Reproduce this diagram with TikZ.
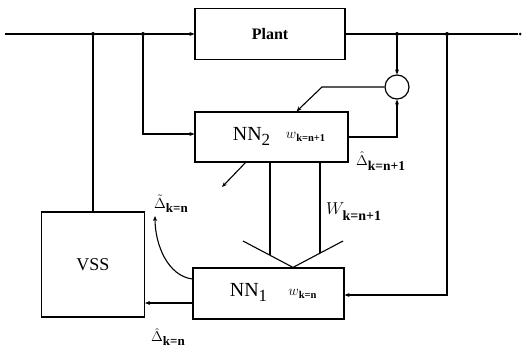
\documentclass[tikz,border=0pt]{standalone}
\usepackage{amsmath}
\usepackage{fontspec}
\setmainfont{Liberation Serif}
\usetikzlibrary{positioning, arrows.meta, calc}

% subscript in bold upright text
\newcommand{\ksub}[2]{{\fontsize{#1}{#1}\selectfont\bfseries #2}}

\begin{document}
\begin{tikzpicture}[x=1pt, y=-1pt,
        block/.style={draw, line width=1.2pt, inner sep=0pt},
        arr/.style={-{Stealth[length=5pt, width=4pt]}, line width=1.1pt},
        wire/.style={line width=1.1pt},
        dot/.style={circle, fill, inner sep=0pt, minimum size=4pt},
        nnlbl/.style={font=\fontsize{20}{22}\selectfont, inner sep=0pt},
        wlbl/.style={font=\fontsize{15}{17}\selectfont, inner sep=0pt},
        lbl/.style={font=\fontsize{15}{17}\selectfont, inner sep=0pt}
    ]
    \useasboundingbox (0,0) rectangle (526,351);

    % blocks
    \node[block, minimum width=150pt, minimum height=51pt, font=\fontsize{16}{18}\selectfont\bfseries] (plant) at (270,34) {Plant};
    \node[block, minimum width=153pt, minimum height=50pt] (nntwo) at (271.5,137) {};
    \node[block, minimum width=151pt, minimum height=51pt] (nnone) at (268.5,293.5) {};
    \node[block, font=\fontsize{18}{20}\selectfont, minimum width=103pt, minimum height=105pt] (vss) at (93,264.5) {VSS};
    \node[block, circle, minimum size=24pt] (sum) at (397,87) {};

    % texts in the nets
    \node[nnlbl] (nntwotxt) at ([xshift=-20pt, yshift=1pt]nntwo.center) {NN\raisebox{-5pt}{\fontsize{17}{17}\selectfont 2}};
    \node[wlbl] (wtwo) at ([xshift=34pt]nntwo.center) {$w$\raisebox{-3pt}{\ksub{10.5}{k=n+1}}};
    \node[nnlbl] (nnonetxt) at ([xshift=-20pt, yshift=1pt]nnone.center) {NN\raisebox{-5pt}{\fontsize{17}{17}\selectfont 1}};
    \node[wlbl] (wone) at ([xshift=34pt]nnone.center) {$w$\raisebox{-3pt}{\ksub{10.5}{k=n}}};

    % junctions
    \coordinate (in) at (5,34);
    \node[dot] (d1) at (93,34) {};
    \node[dot] (d2) at (143,34) {};
    \node[dot] (d3) at (397,34) {};
    \node[dot] (d4) at (447,34) {};
    \node[dot, minimum size=3pt] (out) at (520,34) {};

    % main line
    \draw[wire] (in) -- (d1) -- (d2);
    \draw[arr] (d2) -- (plant.west);
    \draw[wire] (plant.east) -- (out);
    \draw[arr] (d3) -- (sum.north);
    \draw[wire] (d1) -- (vss.north);
    \draw[arr] (d2) |- ($(nntwo.west)+(0,-3)$);

    % NN2 loop
    \draw[arr] (nntwo.east) -| (sum.south);
    \coordinate (k1) at (322,87);
    \draw[arr] (sum.west) -- (k1) -- ([xshift=25pt]nntwo.north);
    \coordinate (tgt) at (222,187);
    \draw[arr] ([xshift=-26pt]nntwo.south) -- (tgt);

    % weight transfer
    \coordinate (vl) at (243,241);
    \coordinate (vr) at (343,241);
    \coordinate (vtip) at ([xshift=24.5pt]nnone.north);
    \draw[wire] (vl) -- (vtip) -- (vr);
    \coordinate (wa) at ($(vl)!0.54!(vtip)$);
    \coordinate (wb) at ($(vr)!0.46!(vtip)$);
    \draw[wire] (wa |- nntwo.south) -- (wa);
    \draw[wire] (wb |- nntwo.south) -- (wb);

    % NN1 connections
    \draw[arr] (d4) |- ($(nnone.east)+(0,1.5)$);
    \draw[arr] ($(nnone.west)+(0,9.5)$) -- (vss.east |- {$(nnone.west)+(0,9.5)$});
    \coordinate (ctop) at (155,216);
    \draw[arr] ($(nnone.west)+(0,-14.5)$) .. controls (168,276) and (155,245) .. (ctop);

    % labels
    \node[lbl, anchor=west] (dhat2) at (356,161) {$\hat{\Delta}$\raisebox{-5pt}{\ksub{13.5}{k=n+1}}};
    \node[lbl, anchor=west] (dtil) at (154,204) {$\tilde{\Delta}$\raisebox{-4pt}{\ksub{13}{k=n}}};
    \node[lbl, anchor=west] (dhat1) at (151,337) {$\hat{\Delta}$\raisebox{-4pt}{\ksub{13}{k=n}}};
    \node[font=\fontsize{16}{18}\selectfont, inner sep=0pt, anchor=west] (wlbl) at (326,212) {$W$\hspace{-2pt}\raisebox{-6pt}{\ksub{14}{k=n+1}}};
\end{tikzpicture}
\end{document}
